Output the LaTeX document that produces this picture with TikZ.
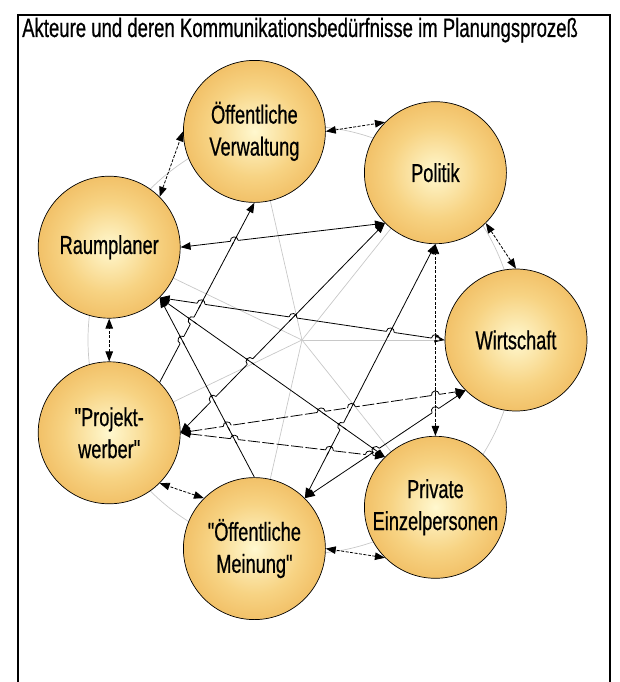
\documentclass[tikz,border=0pt]{standalone}
\usepackage{fontspec}
\setmainfont{Liberation Sans}
\newfontfamily\narrowfont{Liberation Sans}[FakeStretch=0.70, FakeBold=0.6]
\usetikzlibrary{arrows.meta, calc}

% colours of the actor balls
\definecolor{ballcore}{HTML}{FFF8CF}
\definecolor{ballmid}{HTML}{F7D383}
\definecolor{ballrim}{HTML}{E9A33C}
\definecolor{webgrey}{HTML}{C8C8C8}

\pgfdeclareradialshading{actorball}{\pgfpoint{0bp}{0bp}}{%
  color(0bp)=(ballcore); color(16bp)=(ballmid); color(40bp)=(ballrim); color(50bp)=(ballrim)}

\tikzset{
  actor/.style={circle, draw=black, line width=0.7pt, minimum size=142pt,
    inner sep=0pt, shading=actorball, align=center,
    font=\narrowfont\fontsize{26}{32}\selectfont},
  web/.style={draw=webgrey, line width=0.7pt},
  >={Triangle[length=10pt,width=7.5pt]},
  link/.style={line width=0.8pt},
  shortdash/.style={link, dash pattern=on 3pt off 1.5pt},
  longdash/.style={link, dash pattern=on 12pt off 2.5pt},
}

% line jump: the line #3--#4 (#3 = its left end) hops over the line #1--#2,
% which is drawn again across the gap in style #5
\newcommand\linehop[5]{%
  \coordinate (hx) at (intersection of #1--#2 and #3--#4);
  \coordinate (hs) at ($(hx)!4pt!(#3)$);
  \coordinate (ht) at ($(hx)!4pt!(#4)$);
  \draw[white, line width=2.6pt] (hs) -- (ht);
  \draw[#5] ($(hx)!5.5pt!(#1)$) -- ($(hx)!5.5pt!(#2)$);
  \draw[link] (hs) .. controls ($(hs)!5.33pt!90:(hx)$) and ($(ht)!5.33pt!-90:(hx)$) .. (ht);
}

\begin{document}
\begin{tikzpicture}[x=1pt, y=-1pt]
\useasboundingbox (0,0) rectangle (620,682);

% frame and title
\draw[line width=1.6pt] (18,690) -- (18,15) -- (610,15) -- (610,690);
\node[anchor=base west, inner sep=0pt, font=\narrowfont\fontsize{26.5}{30}\selectfont]
  (title) at (22,37) {Akteure und deren Kommunikationsbedürfnisse im Planungsprozeß};

% hub of the heptagon
\coordinate (hub) at (302,340);

% grey background web: ring through the actors and spokes to the hub
\draw[web] (hub) circle (214);
\coordinate (cV) at (254.4,131.4);
\coordinate (cP) at (435.4,172.7);
\coordinate (cW) at (516,340);
\coordinate (cE) at (435.4,507.3);
\coordinate (cM) at (254.4,548.6);
\coordinate (cJ) at (109.2,432.8);
\coordinate (cR) at (109.2,247.2);
\foreach \c in {cV,cP,cW,cE,cM,cJ,cR} \draw[web] (hub) -- (\c);

% actors
\node[actor] (V) at (cV) {Öffentliche\\Verwaltung};
\node[actor] (P) at (cP) {Politik};
\node[actor] (W) at (cW) {Wirtschaft};
\node[actor] (E) at (cE) {Private\\Einzelpersonen};
\node[actor] (M) at (cM) {"Öffentliche\\Meinung"};
\node[actor] (J) at (cJ) {"Projekt-\\werber"};
\node[actor] (R) at (cR) {Raumplaner};

% connection points on the balls
\coordinate (Rr) at (R.0);    \coordinate (Rd) at (R.-45);
\coordinate (Rul) at (R.45);  \coordinate (Rb) at (R.-90);
\coordinate (Vl) at (V.180);  \coordinate (Vr) at (V.0);   \coordinate (Vb) at (V.-90);
\coordinate (Pul) at (P.135); \coordinate (Pdl) at (P.-135);
\coordinate (Pb) at (P.-90);  \coordinate (Pdr) at (P.-45);
\coordinate (Wt) at (W.90);   \coordinate (Wl) at (W.180); \coordinate (Wdl) at (W.-135);
\coordinate (Et) at (E.90);   \coordinate (Eul) at (E.135); \coordinate (Edl) at (E.-135);
\coordinate (Mr) at (M.0);    \coordinate (Mt) at (M.90);
\coordinate (Mur) at (M.45);  \coordinate (Mul) at (M.135);
\coordinate (Jt) at (J.90);   \coordinate (Jur) at (J.45);
\coordinate (Jr) at (J.0);    \coordinate (Jdr) at (J.-45);

% neighbours on the ring
\draw[shortdash, <->] (Rul) -- (Vl);
\draw[shortdash, <->] (Vr) -- (Pul);
\draw[shortdash, <->] (Pdr) -- (Wt);
\draw[shortdash, <->] (Edl) -- (Mr);
\draw[shortdash, <->] (Mul) -- (Jdr);
\draw[shortdash, <->] (Jt) -- (Rb);

% links across the ring
\draw[link, <->] (Rr) -- (Pdl);
\draw[link, <->] (Rd) -- (Wl);
\draw[link, <->] (Rd) -- (Eul);
\draw[link, <-] (Rd) -- (Mt);
\draw[link, ->] (Jur) -- (Vb);
\draw[link, <->] (Jr) -- (Pdl);
\draw[link, <->] (Mur) -- (Pb);
\draw[shortdash, <->] (Et) -- (Pb);
\draw[longdash, <->] (Jr) -- (Wdl);
\draw[link, <->] (Mur) -- (Wdl);
\draw[longdash, <->] (Jr) -- (Eul);

% line jumps where the links cross
\linehop{Jur}{Vb}{Rr}{Pdl}{link}
\linehop{Jur}{Vb}{Rd}{Wl}{link}
\linehop{Jr}{Pdl}{Rd}{Wl}{link}
\linehop{Mur}{Pb}{Rd}{Wl}{link}
\linehop{Et}{Pb}{Rd}{Wl}{shortdash}
\linehop{Rd}{Eul}{Jur}{Vb}{link}
\linehop{Rd}{Eul}{Jr}{Pdl}{link}
\linehop{Rd}{Eul}{Mur}{Pb}{link}
\linehop{Rd}{Eul}{Jr}{Wdl}{link}
\linehop{Rd}{Eul}{Mur}{Wdl}{link}
\linehop{Rd}{Mt}{Jur}{Vb}{link}
\linehop{Rd}{Mt}{Jr}{Pdl}{link}
\linehop{Rd}{Mt}{Jr}{Wdl}{link}
\linehop{Rd}{Mt}{Jr}{Eul}{link}
\linehop{Mur}{Pb}{Jr}{Wdl}{link}
\linehop{Mur}{Pb}{Jr}{Eul}{link}
\linehop{Et}{Pb}{Jr}{Wdl}{shortdash}
\linehop{Et}{Pb}{Mur}{Wdl}{shortdash}
\linehop{Mur}{Wdl}{Jr}{Eul}{link}
\end{tikzpicture}
\end{document}
